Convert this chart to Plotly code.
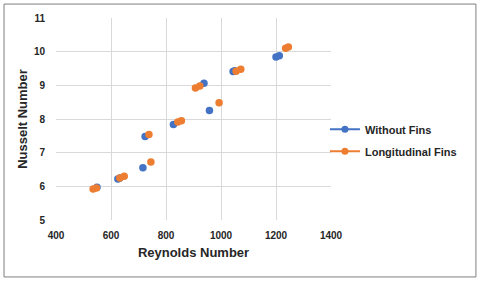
import plotly.graph_objects as go

# Data
re_without = [549, 625, 632, 716, 724, 827, 938, 958, 1044, 1050, 1200, 1212]
nu_without = [5.97, 6.22, 6.25, 6.55, 7.48, 7.84, 9.06, 8.25, 9.41, 9.43, 9.84, 9.88]

re_longit = [535, 547, 632, 648, 745, 738, 843, 856, 907, 923, 993, 1055, 1072, 1235, 1245]
nu_longit = [5.92, 5.95, 6.25, 6.30, 6.72, 7.54, 7.91, 7.95, 8.92, 8.98, 8.48, 9.42, 9.48, 10.10, 10.14]

series_names = ["Without Fins", "Longitudinal Fins"]
colors = ["#4472C4", "#ED7D31"]

x_ticks = [400, 600, 800, 1000, 1200, 1400]
y_ticks = [5, 6, 7, 8, 9, 10, 11]

fig = go.Figure()
for xs, ys, name, c in [(re_without, nu_without, series_names[0], colors[0]),
                        (re_longit, nu_longit, series_names[1], colors[1])]:
    fig.add_trace(go.Scatter(x=xs, y=ys, mode="markers", name=name,
                             marker=dict(color=c, size=7.5, line=dict(width=0)),
                             showlegend=False, legendgroup=name))
    # legend entry with line + marker (as in the original)
    fig.add_trace(go.Scatter(x=[None], y=[None], mode="lines+markers", name=name,
                             marker=dict(color=c, size=7),
                             line=dict(color=c, width=2),
                             showlegend=True, legendgroup=name))

font_fam = "Liberation Sans, Arial, sans-serif"
tick_font = dict(size=10, color="#262626", family=font_fam, weight="bold")
fig.update_layout(
    width=480, height=281,
    margin=dict(l=56, r=149, t=18, b=61),
    paper_bgcolor="white", plot_bgcolor="white",
    font=dict(family=font_fam, color="#404040"),
    xaxis=dict(range=[400, 1400], tickvals=x_ticks, showgrid=True, gridcolor="#D9D9D9",
               gridwidth=1, zeroline=False, showline=False,
               ticks="outside", ticklen=6, tickcolor="rgba(0,0,0,0)",
               tickfont=tick_font, automargin=False,
               title=dict(text="<b>Reynolds Number</b>", font=dict(size=13, color="#262626"),
                          standoff=7)),
    yaxis=dict(range=[5, 11], tickvals=y_ticks, showgrid=True, gridcolor="#D9D9D9",
               gridwidth=1, zeroline=False, showline=False,
               ticks="outside", ticklen=8, tickcolor="rgba(0,0,0,0)",
               tickfont=tick_font, automargin=False,
               title=dict(text="<b>Nusselt Number</b>", font=dict(size=13, color="#262626"),
                          standoff=3)),
    legend=dict(x=0.978, xanchor="left", y=0.395, yanchor="middle",
                font=dict(size=11, color="#262626", family=font_fam, weight="bold"),
                bgcolor="rgba(0,0,0,0)", traceorder="grouped", tracegroupgap=3),
    shapes=[dict(type="rect", xref="paper", yref="paper",
                 x0=-0.189, x1=1.527, y0=-0.282, y1=1.069,
                 line=dict(color="#7F7F7F", width=1), fillcolor="rgba(0,0,0,0)")],
)

fig.write_html("out.html", config={"displayModeBar": False},
               post_script="document.body.style.margin='0';document.body.style.padding='0';")
